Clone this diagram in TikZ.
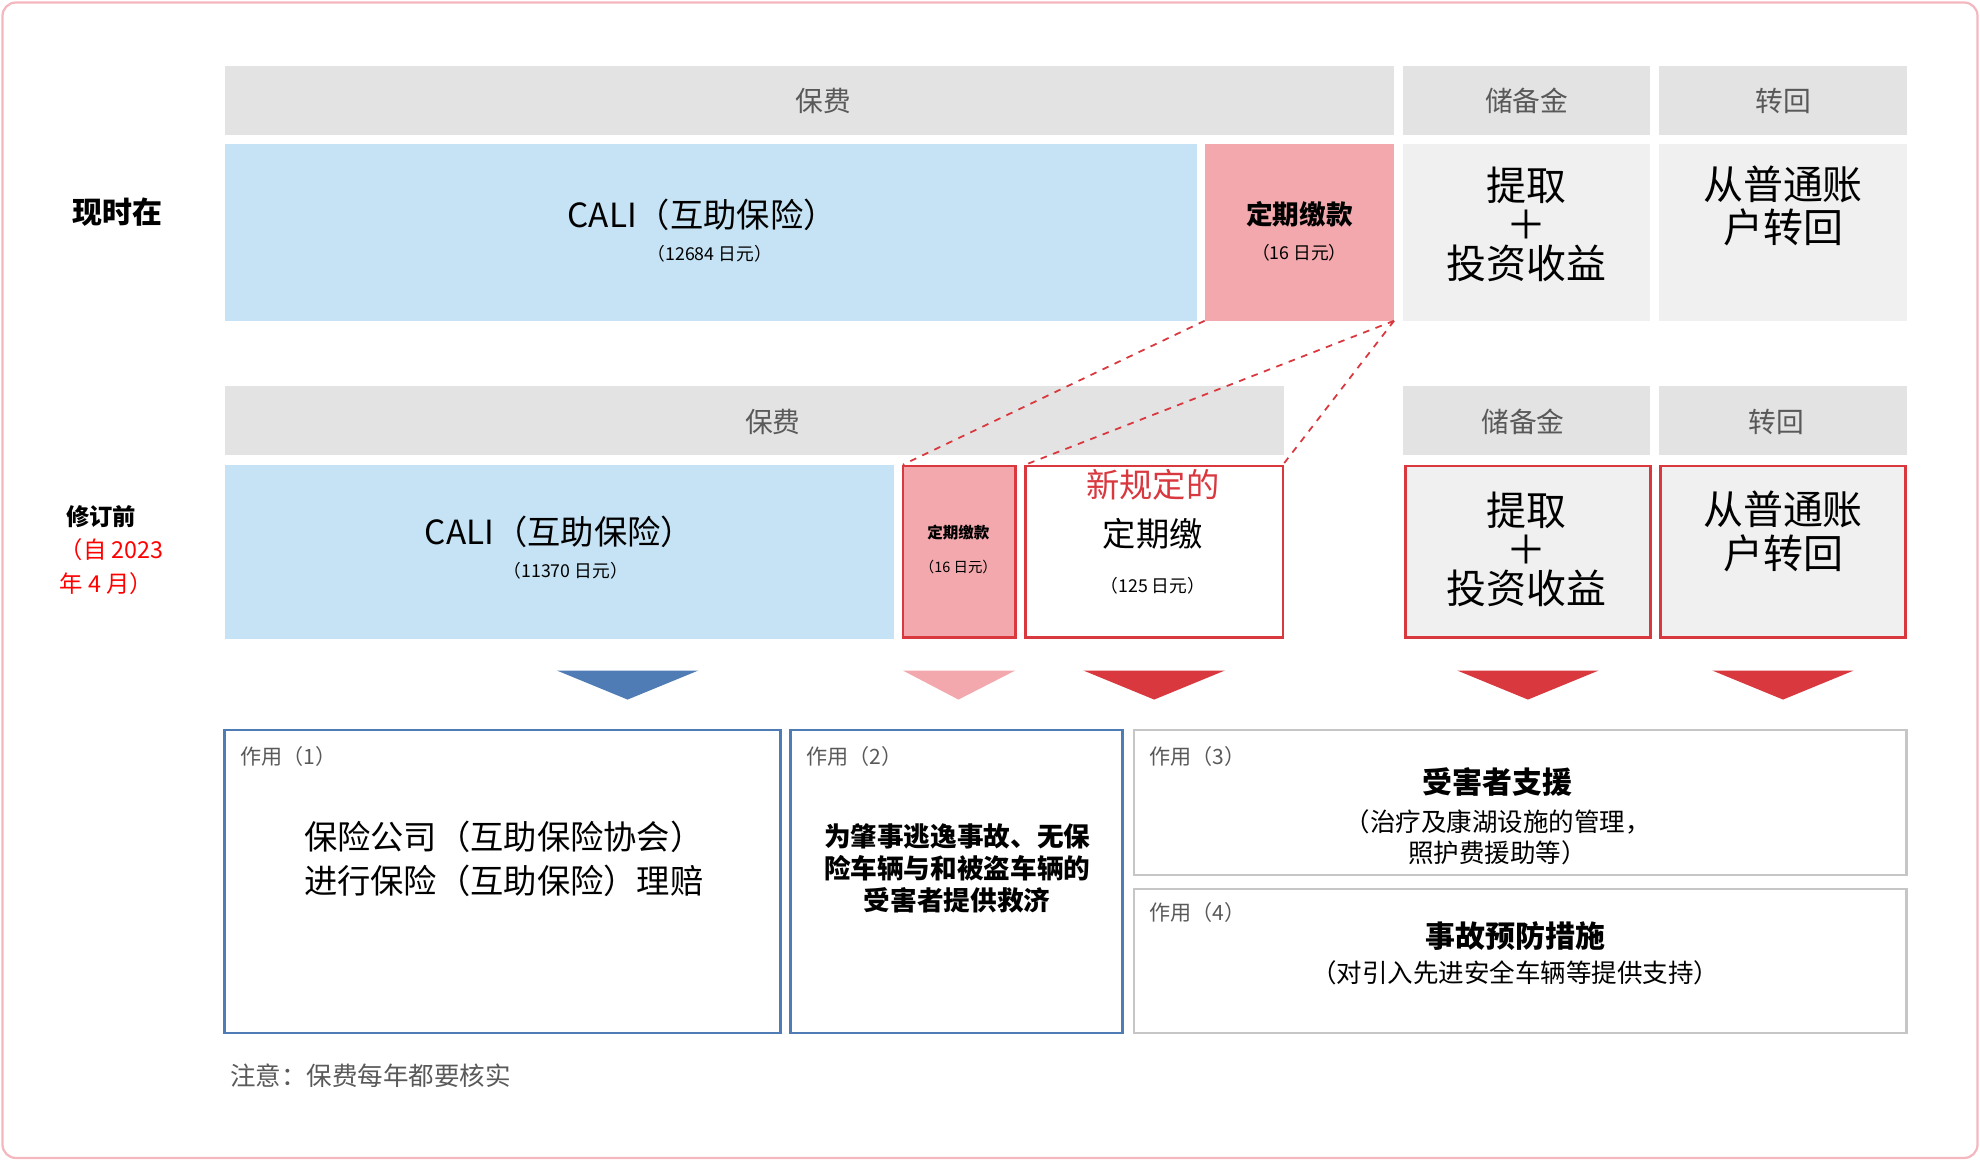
\documentclass[tikz,border=0pt]{standalone}
\usepackage{fontspec}
\setmainfont{Noto Sans CJK SC}
\usetikzlibrary{positioning}
\definecolor{hdrgray}{HTML}{E3E3E3}
\definecolor{lightgray}{HTML}{F0F0F0}
\definecolor{caliblue}{HTML}{C5E3F5}
\definecolor{feepink}{HTML}{F2A8AC}
\definecolor{boxred}{HTML}{D9383F}
\definecolor{boxblue}{HTML}{4F7CB4}
\definecolor{framepink}{HTML}{F5B7BE}
\newcommand{\fs}[1]{\fontsize{#1pt}{1.2\dimexpr#1pt\relax}\selectfont}
\begin{document}
\begin{tikzpicture}[x=0.2mm,y=-0.2mm,
    txt/.style={align=center,inner sep=0pt},
    hdrtxt/.style={txt,gray!70!black,font=\fs{12.5}},
    subtxt/.style={txt,font=\fs{8}},
    bigtxt/.style={txt,font=\fs{18}},
    roletxt/.style={txt,gray!70!black,anchor=west,font=\fs{9.5}},
    rbox/.style={draw=boxred,line width=1.2pt}]
\useasboundingbox(0,0) rectangle (1568,919);
\draw[framepink,line width=1pt,rounded corners=6](2,2) rectangle (1566,917);
%% row 1
\fill[hdrgray](178,52) rectangle (1104,107);
\fill[hdrgray](1111,52) rectangle (1307,107);
\fill[hdrgray](1314,52) rectangle (1510,107);
\node[hdrtxt] (hfee1) at (652,80) {保费};
\node[hdrtxt] (hres1) at (1209,80) {储备金};
\node[hdrtxt] (hret1) at (1412,80) {转回};
\fill[caliblue](178,114) rectangle (948,254);
\fill[feepink](954,114) rectangle (1104,254);
\fill[lightgray](1111,114) rectangle (1307,254);
\fill[lightgray](1314,114) rectangle (1510,254);
\node[txt,font=\fs{13.5}\bfseries] (now) at (93,168) {现时在};
\node[txt,font=\fs{15}] (cali1) at (556,170) {CALI（互助保险）};
\node[subtxt] at (562,201) {（12684 日元）};
\node[txt,font=\fs{12}\bfseries] (fee1) at (1029,170) {定期缴款};
\node[subtxt] at (1029,200) {（16 日元）};
\node[bigtxt] (wd1) at (1209,178) {提取\\[-4pt]＋\\[-4pt]投资收益};
\node[bigtxt] (tr1) at (1412,163) {从普通账\\[-2pt]户转回};
\coordinate (f1a) at (954,254);
\coordinate (f1b) at (1104,254);
%% row 2
\fill[hdrgray](178,306) rectangle (1017,360);
\fill[hdrgray](1111,306) rectangle (1307,360);
\fill[hdrgray](1314,306) rectangle (1510,360);
\node[hdrtxt] (hfee2) at (612,334) {保费};
\node[hdrtxt] (hres2) at (1206,334) {储备金};
\node[hdrtxt] (hret2) at (1407,334) {转回};
\fill[caliblue](178,368) rectangle (708,506);
\draw[rbox,fill=feepink](715,369) rectangle (804,505);
\draw[rbox,fill=white](812,369) rectangle (1016,505);
\draw[rbox,fill=lightgray](1113,369) rectangle (1307,505);
\draw[rbox,fill=lightgray](1315,369) rectangle (1509,505);
\node[txt,font=\fs{10.5}\bfseries] (rev) at (80,409) {修订前};
\node[txt,red,align=left,anchor=north west,font=\fs{10.5}] (since) at (47,426) {（自 2023\\[3pt]年 4 月）};
\node[txt,font=\fs{15}] (cali2) at (443,421) {CALI（互助保险）};
\node[subtxt] at (448,452) {（11370 日元）};
\node[txt,font=\fs{7}\bfseries] (fee2) at (759,422) {定期缴款};
\node[txt,font=\fs{6.5}] at (759,449) {（16 日元）};
\node[txt,boxred,font=\fs{15}] (new) at (913,384) {新规定的};
\node[txt,font=\fs{15}] (newfee) at (913,423) {定期缴};
\node[subtxt] at (913,464) {（125 日元）};
\node[bigtxt] (wd2) at (1209,435) {提取\\[-4pt]＋\\[-4pt]投资收益};
\node[bigtxt] (tr2) at (1412,421) {从普通账\\[-2pt]户转回};
\coordinate (f2a) at (715,368);
\coordinate (f2b) at (812,368);
\coordinate (f2c) at (1016,368);
\draw[boxred,dashed,line width=0.8pt] (f1a)--(f2a) (f1b)--(f2b) (f1b)--(f2c);
%% arrows down
\fill[boxblue](441,531)--(553,531)--(497,554)--cycle;
\fill[feepink](715,531)--(804,531)--(759,554)--cycle;
\fill[boxred](858,531)--(970,531)--(914,554)--cycle;
\fill[boxred](1154,531)--(1266,531)--(1210,554)--cycle;
\fill[boxred](1356,531)--(1468,531)--(1412,554)--cycle;
%% roles
\draw[boxblue,line width=1.2pt](178,578) rectangle (618,818);
\draw[boxblue,line width=1.2pt](626,578) rectangle (889,818);
\draw[gray!45,line width=1.2pt](898,578) rectangle (1510,693);
\draw[gray!45,line width=1.2pt](898,704) rectangle (1510,818);
\node[roletxt] (r1) at (190,599) {作用（1）};
\node[roletxt] (r2) at (638,599) {作用（2）};
\node[roletxt] (r3) at (910,599) {作用（3）};
\node[roletxt] (r4) at (910,723) {作用（4）};
\node[txt,align=left,font=\fs{15}] (t1) at (399,680) {保险公司（互助保险协会）\\[2pt]进行保险（互助保险）理赔};
\node[txt,font=\fs{12}\bfseries] (t2) at (758,688) {为肇事逃逸事故、无保\\险车辆与和被盗车辆的\\受害者提供救济};
\node[txt,font=\fs{13.5}\bfseries] (t3) at (1186,619) {受害者支援};
\node[txt,font=\fs{11.5}] at (1186,663) {（治疗及康湖设施的管理，\\照护费援助等）};
\node[txt,font=\fs{13.5}\bfseries] (t4) at (1200,741) {事故预防措施};
\node[txt,font=\fs{11.5}] at (1200,770) {（对引入先进安全车辆等提供支持）};
\node[txt,gray!70!black,anchor=west,font=\fs{11.5}] (note) at (182,852) {注意：保费每年都要核实};
\end{tikzpicture}
\end{document}
